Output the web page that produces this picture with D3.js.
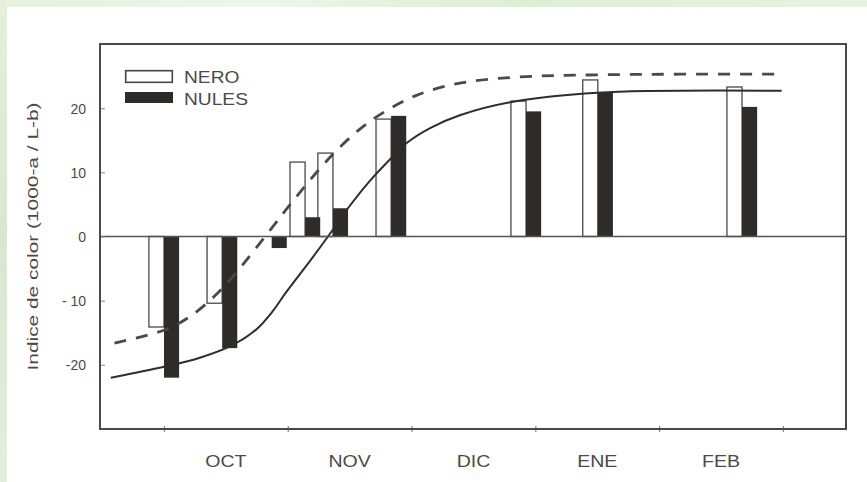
<!DOCTYPE html>
<html>
<head>
<meta charset="utf-8">
<script src="https://cdn.jsdelivr.net/npm/d3@7"></script>
<style>
  html, body { margin: 0; padding: 0; background: #ffffff; }
  svg { display: block; }
  text { font-family: "Liberation Sans", Arial, sans-serif; fill: #4a4a4a; }
</style>
</head>
<body>
<svg id="chart" width="867" height="482"></svg>
<script>
// Sampling dates, in months counted from 1 October
const sampleDates = [0.0, 0.47, 0.87, 1.14, 1.365, 1.835, 2.925, 3.505, 4.67];
// Colour index per cultivar
const neroValues  = [-14.1, -10.4, 0, 11.6, 13.0, 18.3, 21.1, 24.4, 23.3];
const nulesValues = [-22.0, -17.4, -1.8, 3.0, 4.4, 18.8, 19.5, 22.4, 20.2];

// Fitted trend curves: [month, index]
const neroCurve = [
  [-0.40, -16.6], [0.0, -14.6], [0.2, -12.6], [0.43, -8.9], [0.64, -4.3],
  [0.87, 1.3], [1.02, 5.0], [1.26, 10.6], [1.42, 13.9], [1.58, 16.7],
  [1.745, 19.0], [2.04, 22.0], [2.39, 23.9], [2.82, 24.8], [3.5, 25.2],
  [4.99, 25.3]
];
const nulesCurve = [
  [-0.43, -22.0], [0.0, -20.3], [0.29, -18.9], [0.557, -16.9], [0.75, -14.4],
  [0.88, -11.6], [0.99, -8.6], [1.18, -3.8], [1.325, 0.0], [1.486, 4.4],
  [1.66, 8.6], [1.835, 12.2], [1.963, 14.6], [2.15, 16.9], [2.39, 18.9],
  [2.82, 21.0], [3.5, 22.4], [4.99, 22.7]
];

// Axis labelling
const monthLabels = ["OCT", "NOV", "DIC", "ENE", "FEB"];
const monthTicks = [0, 1, 2, 3, 4, 5];
const yTicks = [-20, -10, 0, 10, 20];
const yTickLabels = ["-20", "- 10", "0", "10", "20"];
const seriesNames = ["NERO", "NULES"];
const yTitle = "Indice de color (1000-a / L-b)";

const svg = d3.select("#chart");
const W = 867, H = 482;

// Page backdrop: pale green edge along the top and left
const defs = svg.append("defs");
const gTop = defs.append("linearGradient").attr("id", "edgeTop").attr("x1", 0).attr("x2", 1).attr("y1", 0).attr("y2", 0);
gTop.append("stop").attr("offset", "0%").attr("stop-color", "#e6f1de");
gTop.append("stop").attr("offset", "30%").attr("stop-color", "#eef6e9");
gTop.append("stop").attr("offset", "60%").attr("stop-color", "#dcefd3");
gTop.append("stop").attr("offset", "100%").attr("stop-color", "#e8f3e2");
const gLeft = defs.append("linearGradient").attr("id", "edgeLeft").attr("x1", 0).attr("x2", 0).attr("y1", 0).attr("y2", 1);
gLeft.append("stop").attr("offset", "0%").attr("stop-color", "#e4f0dc");
gLeft.append("stop").attr("offset", "50%").attr("stop-color", "#d8e6d2");
gLeft.append("stop").attr("offset", "100%").attr("stop-color", "#e2efdc");

svg.append("rect").attr("x", 0).attr("y", 0).attr("width", W).attr("height", 7).attr("fill", "url(#edgeTop)");
svg.append("rect").attr("x", 0).attr("y", 0).attr("width", 7).attr("height", H).attr("fill", "url(#edgeLeft)");
svg.append("rect").attr("x", 7).attr("y", 7).attr("width", W - 7).attr("height", H - 7).attr("fill", "#ffffff");

// Plot area
const plot = { left: 100, right: 846, top: 44, bottom: 429 };
const x = d3.scaleLinear().domain([-0.517, 5.51]).range([plot.left, plot.right]);
const y = d3.scaleLinear().domain([-30, 30]).range([plot.bottom, plot.top]);

const barW = x(0.122) - x(0);

// Bars: NERO to the left of each date, NULES to the right
const bars = svg.append("g");
bars.selectAll("rect.nero").data(sampleDates).join("rect")
  .attr("class", "nero")
  .attr("x", (d) => x(d) - barW)
  .attr("width", barW)
  .attr("y", (d, i) => y(Math.max(0, neroValues[i])))
  .attr("height", (d, i) => Math.abs(y(neroValues[i]) - y(0)))
  .attr("fill", "#ffffff")
  .attr("stroke", "#555")
  .attr("stroke-width", 1.4);
bars.selectAll("rect.nules").data(sampleDates).join("rect")
  .attr("class", "nules")
  .attr("x", (d) => x(d))
  .attr("width", barW)
  .attr("y", (d, i) => y(Math.max(0, nulesValues[i])))
  .attr("height", (d, i) => Math.abs(y(nulesValues[i]) - y(0)))
  .attr("fill", "#2f2b2b");

// Trend curves
const line = d3.line().x((d) => x(d[0])).y((d) => y(d[1])).curve(d3.curveCatmullRom.alpha(0.5));
svg.append("path").datum(nulesCurve).attr("d", line)
  .attr("fill", "none").attr("stroke", "#2e2e2e").attr("stroke-width", 2);
svg.append("path").datum(neroCurve).attr("d", line)
  .attr("fill", "none").attr("stroke", "#4a4a4a").attr("stroke-width", 2.8)
  .attr("stroke-dasharray", "12,10");

// Zero line
svg.append("line")
  .attr("x1", plot.left).attr("x2", plot.right)
  .attr("y1", y(0)).attr("y2", y(0))
  .attr("stroke", "#555").attr("stroke-width", 1.6);

// Y axis (ticks inside the frame)
const yAxis = d3.axisLeft(y).tickValues(yTicks).tickSize(-5)
  .tickFormat((d, i) => yTickLabels[i]);
const yG = svg.append("g").attr("transform", `translate(${plot.left},0)`).call(yAxis);
yG.select(".domain").remove();
yG.selectAll(".tick line").attr("stroke", "#9a9a9a").attr("stroke-width", 1.2);
yG.selectAll(".tick text")
  .attr("x", -14).attr("dy", "0.35em")
  .attr("font-size", 14).attr("fill", "#4a4a4a")
  .style("font-family", "'Liberation Sans', Arial, sans-serif");

// X axis: month boundaries as ticks, names centred between them
const xAxis = d3.axisBottom(x).tickValues(monthTicks).tickSize(6).tickFormat("");
const xG = svg.append("g").attr("transform", `translate(0,${plot.bottom - 3})`).call(xAxis);
xG.select(".domain").remove();
xG.selectAll(".tick line").attr("stroke", "#7a8a9a").attr("stroke-width", 1.2);

svg.append("g").selectAll("text").data(monthLabels).join("text")
  .attr("transform", (d, i) => `translate(${x(i + 0.5)},467) scale(1.15,1)`)
  .attr("text-anchor", "middle")
  .attr("font-size", 17)
  .text((d) => d);

// Frame
svg.append("rect")
  .attr("x", plot.left).attr("y", plot.top)
  .attr("width", plot.right - plot.left).attr("height", plot.bottom - plot.top)
  .attr("fill", "none").attr("stroke", "#4a4a4a").attr("stroke-width", 2);

// Y axis title
svg.append("text")
  .attr("transform", `translate(38,${(y(-21) + y(21)) / 2}) rotate(-90)`)
  .attr("text-anchor", "middle")
  .attr("font-size", 15)
  .attr("textLength", 268).attr("lengthAdjust", "spacingAndGlyphs")
  .text(yTitle);

// Legend
const legend = svg.append("g").attr("transform", "translate(125,70)");
const legendRows = legend.selectAll("g").data(seriesNames).join("g")
  .attr("transform", (d, i) => `translate(0,${i * 22})`);
legendRows.append("rect")
  .attr("x", (d, i) => i === 0 ? 0.7 : 0).attr("y", (d, i) => i === 0 ? 0.7 : 0)
  .attr("width", (d, i) => i === 0 ? 46.6 : 48)
  .attr("height", (d, i) => i === 0 ? 11.6 : 11)
  .attr("fill", (d, i) => i === 0 ? "#ffffff" : "#2f2b2b")
  .attr("stroke", (d, i) => i === 0 ? "#444" : "none")
  .attr("stroke-width", 1.6);
legendRows.append("text")
  .attr("transform", "translate(59,12.5) scale(1.2,1)")
  .attr("font-size", 16)
  .text((d) => d);
</script>
</body>
</html>
